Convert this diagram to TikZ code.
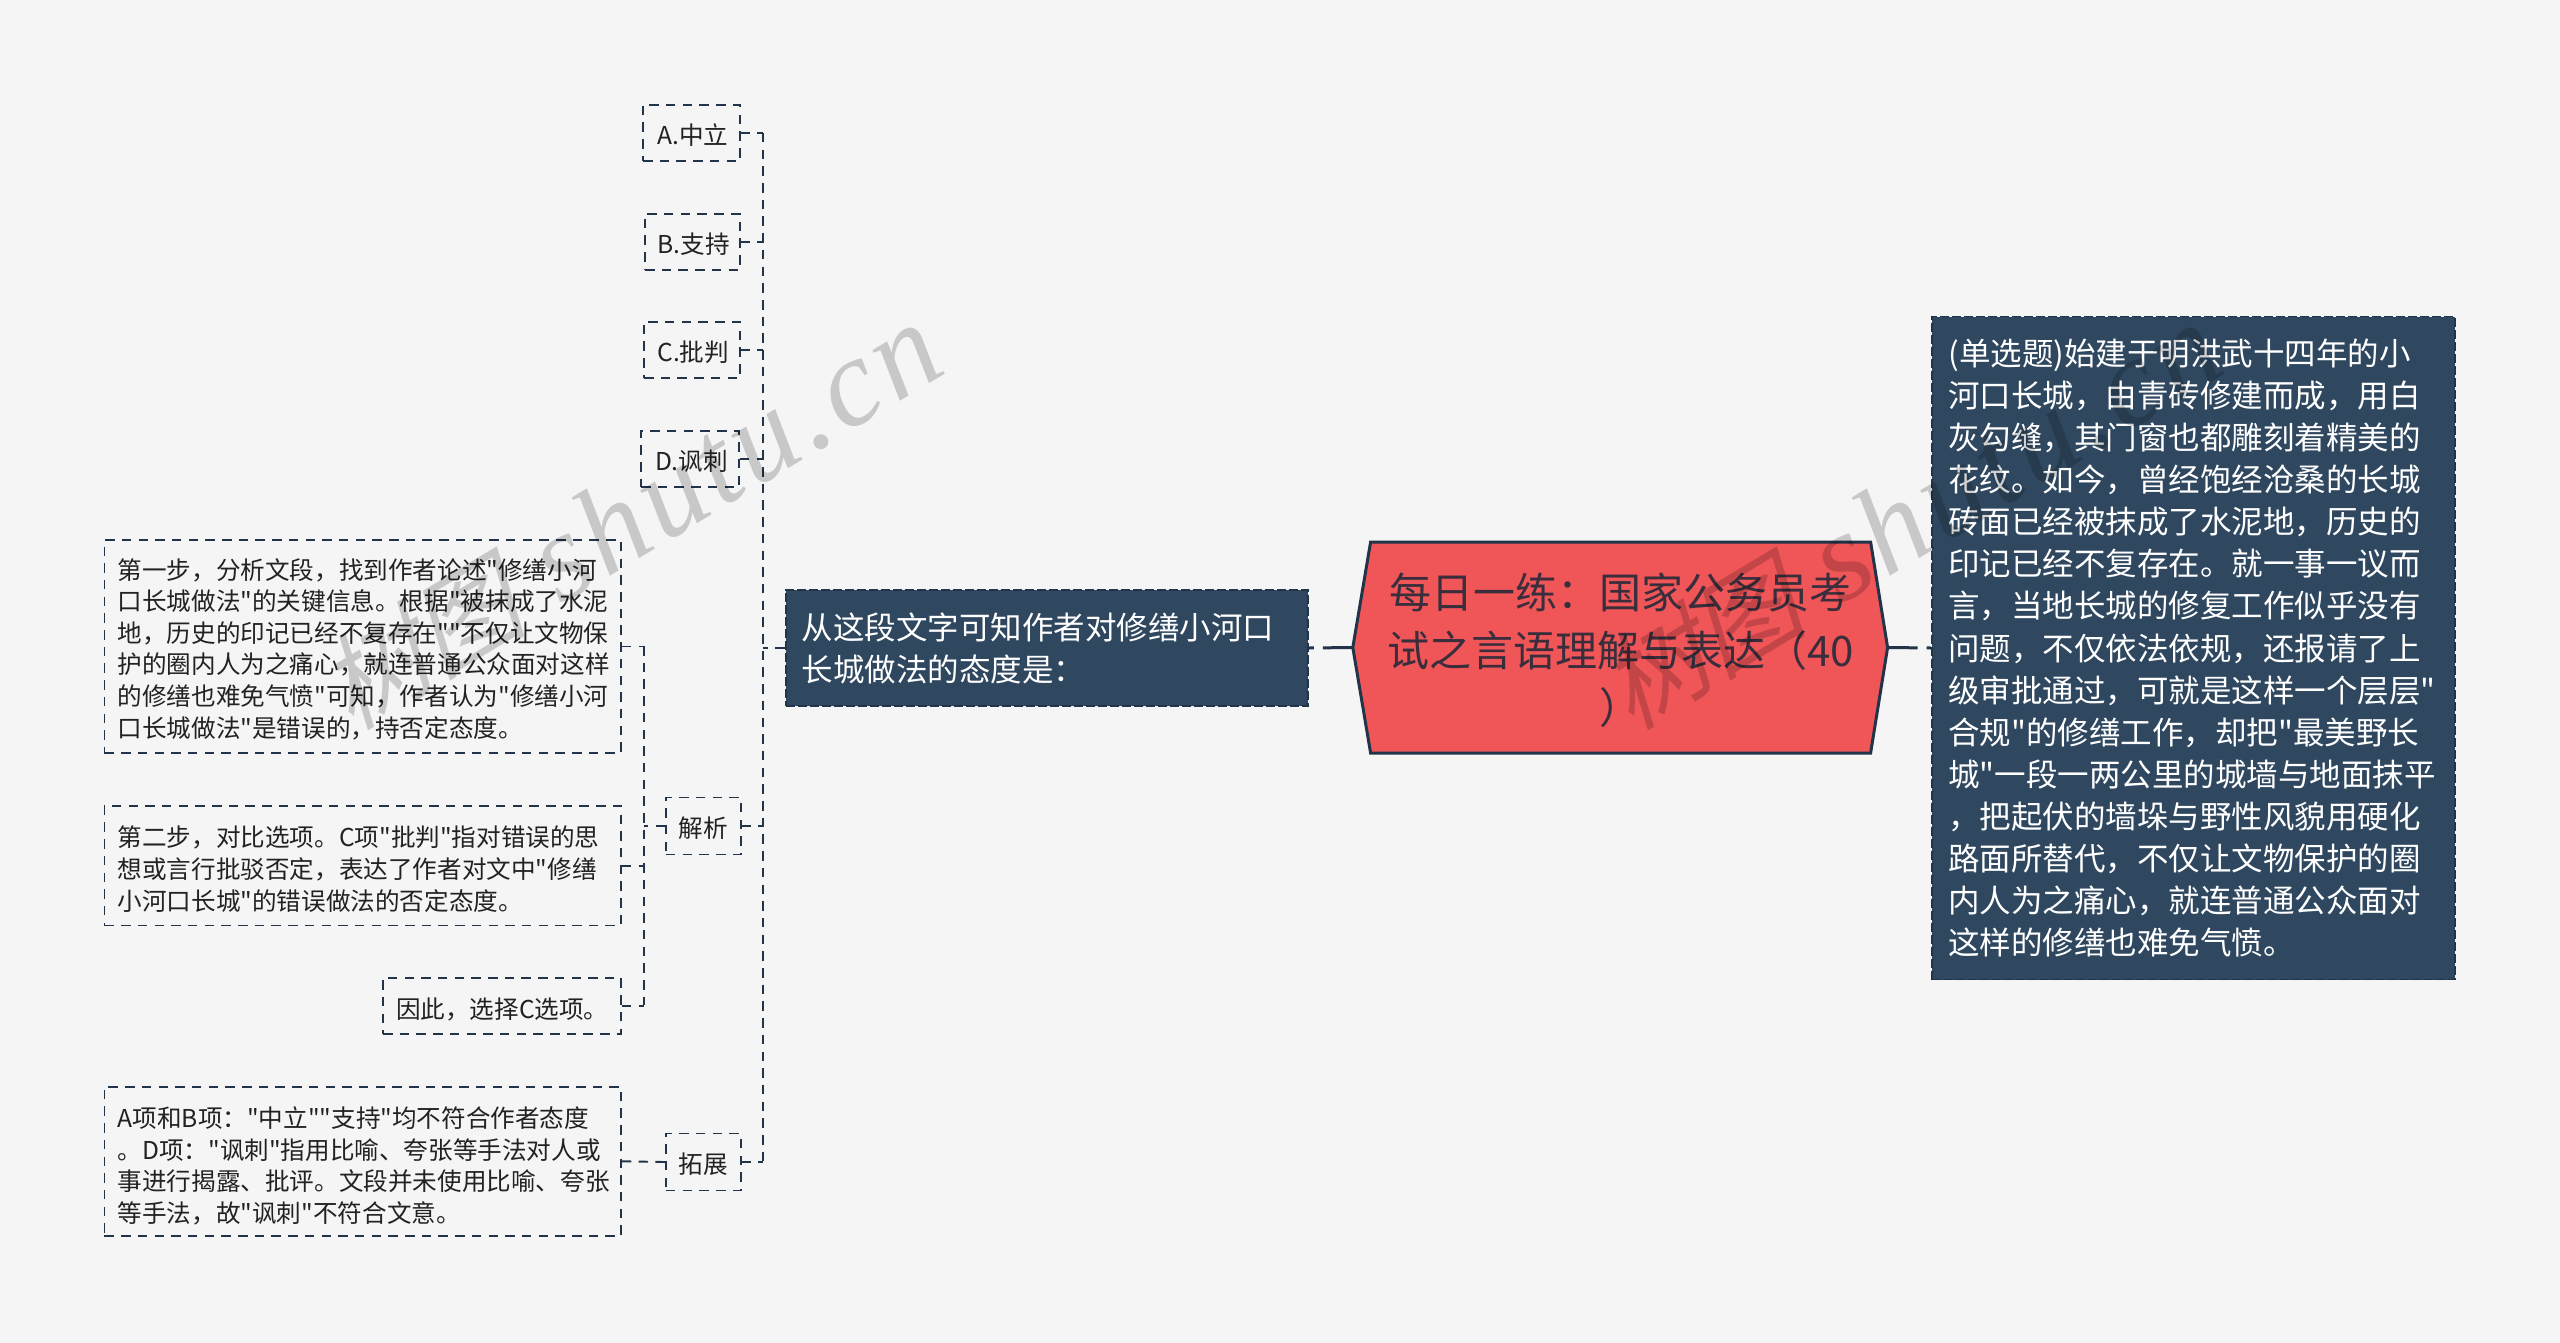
\documentclass[tikz,border=0pt]{standalone}
\usepackage{fontspec}
\newfontfamily\zh{Noto Sans CJK SC}
\newfontfamily\wmfont{Liberation Serif}[ItalicFont=* Italic]
\newfontfamily\wmcjk{Noto Sans CJK SC}[FakeSlant=0.25]
\usetikzlibrary{calc}
\definecolor{bgc}{HTML}{F5F5F5}
\definecolor{navy}{HTML}{2F4860}
\definecolor{edge}{HTML}{22344A}
\definecolor{redc}{HTML}{F05557}
\definecolor{inkc}{HTML}{222222}
\definecolor{titleink}{HTML}{3A2E3C}
\tikzset{
  conn/.style={draw=edge,line width=1.9pt,dash pattern=on 9.5pt off 7.2pt},
  thick conn/.style={draw=edge,line width=3pt,dash pattern=on 30pt off 9pt},
  sbox/.style={draw=edge,line width=1.9pt,dash pattern=on 9.5pt off 7.2pt,inner sep=0pt,align=center,text=inkc,font=\zh\fontsize{24.6}{31.6}\selectfont},
  nbox/.style={draw=edge,fill=navy,line width=1.9pt,dash pattern=on 9pt off 3pt,inner sep=0pt,align=center,text=white,font=\zh\fontsize{31.5}{42.1}\selectfont},
  wm/.style={text=black!18,rotate=31,inner sep=0pt},
}
\newcommand{\wmark}[2]{%
  \node[wm,anchor=base west] at (#1,#2) {\wmfont\itshape\fontsize{125}{125}\selectfont\addfontfeature{LetterSpace=4}shutu.cn};
  \node[wm,anchor=base east] at ([xshift=-30pt,yshift=-18pt]#1,#2) {\wmcjk\fontsize{104}{104}\selectfont 树图};}
\newcommand{\lbl}[2][0pt]{\kern#1\raisebox{-2pt}[\height][\depth]{#2}}
\newcommand{\para}[3]{\raisebox{-#2}[\height][\depth]{\parbox{#1}{\raggedright #3}}}
\begin{document}
\begin{tikzpicture}[x=1pt,y=-1pt]
\useasboundingbox (0,0) rectangle (2560,1343);
\fill[bgc] (0,0) rectangle (2560,1343);
% connectors
\coordinate (tt) at (763,133);
\coordinate (tb) at (763,1162);
\coordinate (st) at (644,646);
\coordinate (sb) at (644,1005);
\draw[conn] (tt) -- (tb);
\draw[conn] (st) -- (sb);
% nodes
\node[sbox,minimum width=96.5pt,minimum height=56.5pt] (a) at (691.3,133) {\lbl[3pt]{A.中立}};
\node[sbox,minimum width=94.5pt,minimum height=56.5pt] (b) at (692.3,242) {\lbl[3pt]{B.支持}};
\node[sbox,minimum width=95.5pt,minimum height=56.5pt] (c) at (691.8,350) {\lbl[3pt]{C.批判}};
\node[sbox,minimum width=98pt,minimum height=56.5pt] (d) at (690,459) {\lbl[3pt]{D.讽刺}};
\node[sbox,minimum width=74.7pt,minimum height=57pt] (jx) at (703.3,826) {\lbl{解析}};
\node[sbox,minimum width=74.7pt,minimum height=57pt] (tz) at (703.3,1162) {\lbl{拓展}};
\node[sbox,minimum width=516.5pt,minimum height=213pt] (s1) at (362.7,646.5) {\para{490pt}{2.5pt}{第一步，分析文段，找到作者论述"修缮小河\\口长城做法"的关键信息。根据"被抹成了水泥\\地，历史的印记已经不复存在""不仅让文物保\\护的圈内人为之痛心，就连普通公众面对这样\\的修缮也难免气愤"可知，作者认为"修缮小河\\口长城做法"是错误的，持否定态度。}};
\node[sbox,minimum width=516.5pt,minimum height=119.5pt] (s2) at (362.7,865.7) {\para{490pt}{3.5pt}{第二步，对比选项。C项"批判"指对错误的思\\想或言行批驳否定，表达了作者对文中"修缮\\小河口长城"的错误做法的否定态度。}};
\node[sbox,minimum width=238pt,minimum height=56pt] (s3) at (502,1005.8) {\para{212pt}{3.5pt}{因此，选择C选项。}};
\node[sbox,minimum width=516.5pt,minimum height=149.5pt] (s4) at (362.7,1161.3) {\para{490pt}{4.5pt}{A项和B项："中立""支持"均不符合作者态度\\。D项："讽刺"指用比喻、夸张等手法对人或\\事进行揭露、批评。文段并未使用比喻、夸张\\等手法，故"讽刺"不符合文意。}};
\node[nbox,minimum width=522.4pt,minimum height=116pt] (q) at (1046.8,648) {\para{490pt}{0.5pt}{从这段文字可知作者对修缮小河口\\长城做法的态度是：}};
\node[nbox,minimum width=523.2pt,minimum height=663pt] (stem) at (2193.4,648) {\para{490pt}{0pt}{(单选题)始建于明洪武十四年的小\\河口长城，由青砖修建而成，用白\\灰勾缝，其门窗也都雕刻着精美的\\花纹。如今，曾经饱经沧桑的长城\\砖面已经被抹成了水泥地，历史的\\印记已经不复存在。就一事一议而\\言，当地长城的修复工作似乎没有\\问题，不仅依法依规，还报请了上\\级审批通过，可就是这样一个层层"\\合规"的修缮工作，却把"最美野长\\城"一段一两公里的城墙与地面抹平\\，把起伏的墙垛与野性风貌用硬化\\路面所替代，不仅让文物保护的圈\\内人为之痛心，就连普通公众面对\\这样的修缮也难免气愤。}};
\coordinate (hl) at (1352.8,647.5);
\coordinate (hr) at (1887.6,647.5);
\draw[edge,fill=redc,line width=3pt,line join=miter] (hl) -- (1370.6,542) -- (1870.6,542) -- (hr) -- (1870.6,753) -- (1370.6,753) -- cycle;
\node[align=center,inner sep=0pt,text=titleink,font=\zh\fontsize{42}{57.5}\selectfont] (main) at (1620.5,650.5) {每日一练：国家公务员考\\试之言语理解与表达（40\\）};
% links
\foreach \n in {a,b,c,d} {\draw[conn] (\n.east) -- (\n.east -| tt);}
\draw[conn] (jx.east) -- (jx.east -| tt);
\draw[conn] (tz.east) -- (tz.east -| tt);
\draw[conn] (jx.west) -- (jx.west -| st);
\draw[conn] (s1.east) -- (s1.east -| st);
\draw[conn] (s2.east) -- (s2.east -| st);
\draw[conn] (s3.east) -- (s3.east -| st);
\draw[conn] (s4.east) -- (tz.west);
\draw[conn] (q.west) -- (q.west -| tt);
\draw[thick conn] (hl) -- (q.east);
\draw[thick conn] (hr) -- (stem.west);
% watermark
\begin{scope}[blend mode=multiply]
\wmark{560}{606}
\wmark{1840}{606}
\wmark{560}{1622}
\wmark{1840}{1622}
\end{scope}
\end{tikzpicture}
\end{document}
